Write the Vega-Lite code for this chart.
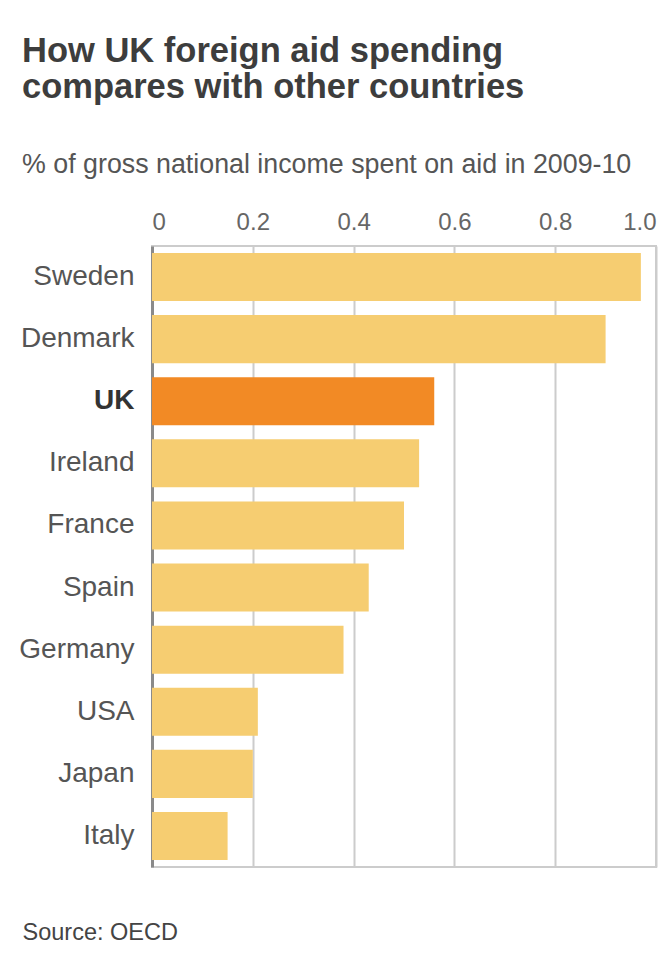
{
  "$schema": "https://vega.github.io/schema/vega-lite/v6.json",
  "width": 504,
  "height": 621,
  "autosize": {"type": "none"},
  "padding": {"left": 152, "top": 246, "right": 4, "bottom": 92},
  "background": "white",
  "data": {
    "values": [
      {"country": "Sweden", "aid": 0.97, "highlight": "no"},
      {"country": "Denmark", "aid": 0.90, "highlight": "no"},
      {"country": "UK", "aid": 0.56, "highlight": "yes"},
      {"country": "Ireland", "aid": 0.53, "highlight": "no"},
      {"country": "France", "aid": 0.50, "highlight": "no"},
      {"country": "Spain", "aid": 0.43, "highlight": "no"},
      {"country": "Germany", "aid": 0.38, "highlight": "no"},
      {"country": "USA", "aid": 0.21, "highlight": "no"},
      {"country": "Japan", "aid": 0.20, "highlight": "no"},
      {"country": "Italy", "aid": 0.15, "highlight": "no"}
    ]
  },
  "title": {
    "text": ["How UK foreign aid spending", "compares with other countries"],
    "subtitle": "% of gross national income spent on aid in 2009-10",
    "anchor": "start",
    "frame": "group",
    "dx": -130,
    "offset": 30,
    "font": "Liberation Sans",
    "fontSize": 34.5,
    "fontWeight": "bold",
    "lineHeight": 36,
    "color": "#3d3d3d",
    "subtitleFont": "Liberation Sans",
    "subtitleFontSize": 26.8,
    "subtitleColor": "#555555",
    "subtitlePadding": 47
  },
  "config": {
    "view": {"stroke": "#cccccc", "strokeWidth": 2},
    "font": "Liberation Sans"
  },
  "resolve": {"axis": {"x": "independent"}},
  "layer": [
    {
      "mark": {"type": "bar"},
      "encoding": {
        "y": {
          "field": "country",
          "type": "nominal",
          "sort": null,
          "scale": {"paddingInner": 0.227, "paddingOuter": 0.113},
          "axis": {
            "title": null,
            "ticks": false,
            "domain": true,
            "domainColor": "#8a8a8a",
            "domainWidth": 3,
            "labelFont": "Liberation Sans",
            "labelFontSize": 28,
            "labelColor": {"condition": {"test": "datum.value === 'UK'", "value": "#333333"}, "value": "#555555"},
            "labelFontWeight": {"condition": {"test": "datum.value === 'UK'", "value": "bold"}, "value": "normal"},
            "labelPadding": 18
          }
        },
        "x": {
          "field": "aid",
          "type": "quantitative",
          "scale": {"domain": [0, 1], "nice": false},
          "axis": {
            "orient": "top",
            "title": null,
            "values": [0, 0.2, 0.4, 0.6, 0.8, 1.0],
            "labelExpr": "datum.value === 0 ? '0' : format(datum.value, '.1f')",
            "ticks": false,
            "domain": false,
            "grid": true,
            "gridColor": "#cccccc",
            "gridWidth": 2,
            "labelFlush": true,
            "labelFont": "Liberation Sans",
            "labelFontSize": 24,
            "labelColor": "#666666",
            "labelPadding": 12
          }
        },
        "color": {
          "field": "highlight",
          "type": "nominal",
          "scale": {"domain": ["no", "yes"], "range": ["#f6cd71", "#f28a25"]},
          "legend": null
        }
      }
    },
    {
      "mark": {"type": "rule", "opacity": 0},
      "encoding": {
        "x": {
          "datum": 0,
          "type": "quantitative",
          "axis": {
            "orient": "bottom",
            "title": "Source: OECD",
            "titleFont": "Liberation Sans",
            "titleFontSize": 23.5,
            "titleFontWeight": "normal",
            "titleColor": "#444444",
            "titleAnchor": "start",
            "titleAlign": "left",
            "titleX": -130,
            "titleY": 72,
            "titleBaseline": "alphabetic",
            "labels": false,
            "ticks": false,
            "domain": false,
            "grid": false
          }
        }
      }
    }
  ]
}
